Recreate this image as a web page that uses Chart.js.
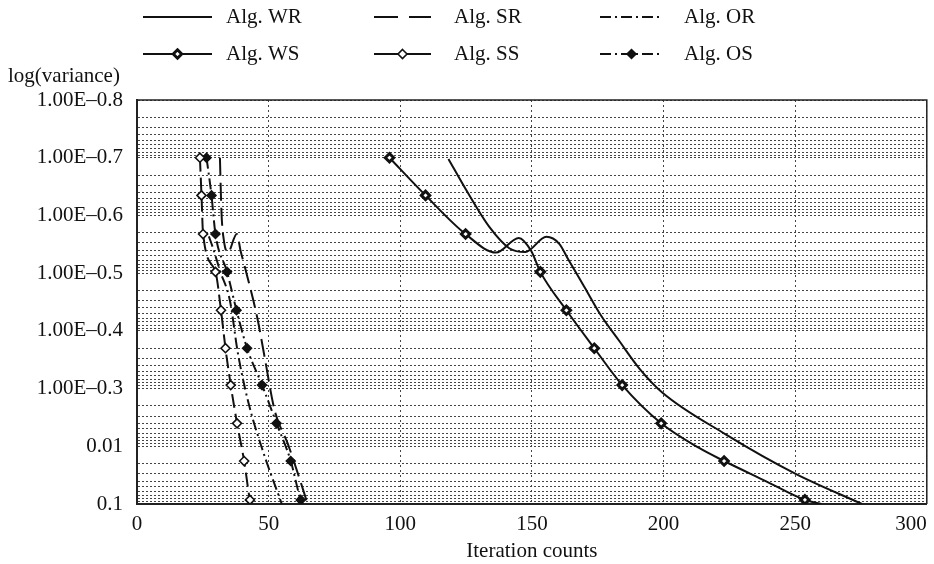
<!DOCTYPE html>
<html><head><meta charset="utf-8">
<script src="https://cdn.jsdelivr.net/npm/chart.js@4/dist/chart.umd.min.js"></script>
<style>html,body{margin:0;padding:0;background:#fff}#wrap{width:934px;height:564px}</style>
</head><body><div id="wrap"><canvas id="c" width="934" height="564"></canvas></div>
<script>
// ---- data ----
const xTickValues = [0, 50, 100, 150, 200, 250, 300];
const xTickLabels = ['0', '50', '100', '150', '200', '250', '300'];
const yTickValues = [1e-8, 1e-7, 1e-6, 1e-5, 1e-4, 1e-3, 1e-2, 1e-1];
const yTickLabels = ['1.00E–0.8', '1.00E–0.7', '1.00E–0.6', '1.00E–0.5', '1.00E–0.4', '1.00E–0.3', '0.01', '0.1'];
const seriesNames = ['Alg. WR', 'Alg. SR', 'Alg. OR', 'Alg. WS', 'Alg. SS', 'Alg. OS'];

const wrX = [118.3, 125.0, 133.9, 141.4, 147.5, 155.5, 160.4, 164.0, 170.0, 176.0, 183.2, 191.0, 199.5, 223.6, 250.2, 275.4];
const wrY = [1.05e-7, 3.6e-7, 1.6e-6, 3.7e-6, 4.3e-6, 2.35e-6, 3.1e-6, 6.0e-6, 1.75e-5, 5.2e-5, 1.5e-4, 4.6e-4, 1.17e-3, 6.2e-3, 3.0e-2, 1.0e-1];

const srX = [31.5, 32.1, 33.0, 34.5, 37.9, 39.4, 41.0, 45.9, 48.5, 52.3, 57.3, 61.8, 64.8];
const srY = [1.0e-7, 9.1e-7, 2.7e-6, 4.4e-6, 2.1e-6, 4.2e-6, 7.9e-6, 6.6e-5, 2.9e-4, 2.4e-3, 9.1e-3, 3.7e-2, 1.0e-1];

const orX = [27.3, 28.8, 31.5, 35.3, 38.3, 42.1, 47.8, 55.0];
const orY = [2.3e-6, 3.6e-6, 9.0e-6, 3.0e-5, 2.4e-4, 1.6e-3, 1.2e-2, 1.0e-1];

const wsX = [95.9, 109.6, 124.8, 136.4, 145.0, 149.7, 153.2, 163.1, 173.7, 184.3, 199.1, 213.5, 223.0, 238.8, 253.7, 260.0];
const wsY = [1.0e-7, 4.5e-7, 2.1e-6, 4.4e-6, 2.45e-6, 4.1e-6, 9.5e-6, 4.4e-5, 2.0e-4, 8.7e-4, 4.0e-3, 1.07e-2, 1.8e-2, 4.0e-2, 8.5e-2, 1.0e-1];
const wsMark = [1, 1, 1, 0, 0, 0, 1, 1, 1, 1, 1, 0, 1, 0, 1, 0];

const ssX = [23.9, 24.5, 25.1, 29.8, 31.9, 33.6, 35.6, 38.0, 40.7, 42.9, 43.4];
const ssY = [1.0e-7, 4.5e-7, 2.1e-6, 9.5e-6, 4.4e-5, 2.0e-4, 8.7e-4, 4.0e-3, 1.8e-2, 8.5e-2, 1.0e-1];
const ssMark = [1, 1, 1, 1, 1, 1, 1, 1, 1, 1, 0];

const osX = [26.4, 28.3, 29.8, 34.2, 37.8, 41.8, 47.5, 53.0, 58.4, 62.2, 63.0];
const osY = [1.0e-7, 4.5e-7, 2.1e-6, 9.5e-6, 4.4e-5, 2.0e-4, 8.7e-4, 4.0e-3, 1.8e-2, 8.5e-2, 1.0e-1];
const osMark = [1, 1, 1, 1, 1, 1, 1, 1, 1, 1, 0];

// ---- styling ----
const FONT = '"Liberation Serif", "Times New Roman", serif';
const INK = '#111';

function pts(xs, ys) { return xs.map((x, i) => ({x: x, y: ys[i]})); }
function ds(label, xs, ys, extra) {
  return Object.assign({
    label: label, data: pts(xs, ys), borderColor: INK, backgroundColor: INK,
    borderWidth: 2, pointRadius: 0, pointHoverRadius: 0, fill: false,
    cubicInterpolationMode: 'monotone', borderDash: []
  }, extra || {});
}
function markR(mask, r) { return c => (mask[c.dataIndex] ? r : 0); }

const datasets = [
  ds(seriesNames[0], wrX, wrY, {}),
  ds(seriesNames[1], srX, srY, {borderDash: [18, 7], _legendDash: [24, 11]}),
  ds(seriesNames[2], orX, orY, {borderDash: [11, 4, 2, 4]}),
  ds(seriesNames[3], wsX, wsY, {pointStyle: 'rectRot', pointRadius: markR(wsMark, 4.2), pointBorderWidth: 3, pointBackgroundColor: '#fff', pointBorderColor: INK, _mk: 'ws'}),
  ds(seriesNames[4], ssX, ssY, {borderDash: [14, 6], _legendDash: [24, 9], pointStyle: 'rectRot', pointRadius: markR(ssMark, 4.5), pointBorderWidth: 1.6, pointBackgroundColor: '#fff', pointBorderColor: INK, _mk: 'ss'}),
  ds(seriesNames[5], osX, osY, {borderDash: [11, 4, 2, 4], pointStyle: 'rectRot', pointRadius: markR(osMark, 4.5), pointBorderWidth: 1.5, pointBackgroundColor: INK, pointBorderColor: INK, _mk: 'os'})
];

const legendCols = [{x0: 143, x1: 212, tx: 226}, {x0: 374, x1: 431, tx: 454}, {x0: 600, x1: 663, tx: 684}];
const legendRows = [17, 54];

function diamond(ctx, x, y, r, fill, lw) {
  ctx.save();
  ctx.setLineDash([]);
  ctx.beginPath();
  ctx.moveTo(x, y - r); ctx.lineTo(x + r, y); ctx.lineTo(x, y + r); ctx.lineTo(x - r, y); ctx.closePath();
  ctx.fillStyle = fill; ctx.fill();
  ctx.lineWidth = lw; ctx.strokeStyle = INK; ctx.stroke();
  ctx.restore();
}

const decorPlugin = {
  id: 'decor',
  afterDraw(chart) {
    const ctx = chart.ctx, ca = chart.chartArea;
    ctx.save();
    ctx.setLineDash([]);
    ctx.strokeStyle = '#222'; ctx.lineWidth = 1.5;
    ctx.beginPath(); ctx.moveTo(ca.left, ca.top); ctx.lineTo(ca.right, ca.top); ctx.lineTo(ca.right, ca.bottom); ctx.stroke();
    ctx.font = '21px ' + FONT; ctx.fillStyle = INK; ctx.textBaseline = 'middle'; ctx.textAlign = 'left';
    ctx.fillText('log(variance)', 8, 76);
    chart.data.datasets.forEach((d, i) => {
      const c = legendCols[i % 3], y = legendRows[Math.floor(i / 3)];
      ctx.save();
      ctx.strokeStyle = INK; ctx.lineWidth = 2; ctx.setLineDash(d._legendDash || d.borderDash || []);
      ctx.beginPath(); ctx.moveTo(c.x0, y); ctx.lineTo(c.x1, y); ctx.stroke();
      ctx.restore();
      if (d._mk) {
        const mx = (c.x0 + c.x1) / 2;
        if (d._mk === 'ws') diamond(ctx, mx, y, 4.2, '#fff', 3);
        if (d._mk === 'ss') diamond(ctx, mx, y, 4.5, '#fff', 1.6);
        if (d._mk === 'os') diamond(ctx, mx, y, 4.5, INK, 1.5);
      }
      ctx.fillStyle = INK; ctx.font = '21px ' + FONT; ctx.textBaseline = 'middle'; ctx.textAlign = 'left';
      ctx.fillText(d.label, c.tx, y);
    });
    ctx.restore();
  }
};

new Chart(document.getElementById('c'), {
  type: 'line',
  data: {datasets: datasets},
  options: {
    responsive: false, animation: false, devicePixelRatio: 1,
    layout: {padding: {top: 100, left: 0, right: 4, bottom: 0}},
    plugins: {legend: {display: false}, tooltip: {enabled: false}, title: {display: false}},
    elements: {line: {tension: 0.4}},
    scales: {
      x: {
        type: 'linear', min: 0, max: 300,
        afterBuildTicks: s => { s.ticks = xTickValues.map(v => ({value: v})); },
        afterFit: s => { s.height = 60; s.paddingRight = 0; s.paddingLeft = 0; },
        ticks: {
          font: {family: FONT, size: 21}, color: INK, padding: 8, maxRotation: 0,
          callback: (v, i, arr) => {
            const k = xTickValues.indexOf(v);
            const lab = k >= 0 ? xTickLabels[k] : '';
            return k === xTickValues.length - 1 ? lab + '\u2002\u2002\u2002' : lab;
          }
        },
        grid: {color: '#444', lineWidth: 1, drawTicks: false},
        border: {display: true, color: '#222', width: 2, dash: [2, 3]},
        title: {display: true, text: 'Iteration counts', font: {family: FONT, size: 21}, color: INK, padding: {top: 0, bottom: 0}}
      },
      y: {
        type: 'logarithmic', reverse: true, min: 1e-8, max: 1e-1,
        afterBuildTicks: s => {
          const t = [];
          for (let e = -8; e <= -2; e++) for (let m = 1; m <= 9; m++) t.push({value: Number((m * Math.pow(10, e)).toPrecision(6))});
          t.push({value: 1e-1});
          s.ticks = t;
        },
        afterFit: s => { s.width = 137; },
        ticks: {
          autoSkip: false, font: {family: FONT, size: 21}, color: INK, padding: 14,
          callback: v => {
            const k = yTickValues.findIndex(t => Math.abs(Math.log10(t) - Math.log10(v)) < 1e-6);
            return k >= 0 ? yTickLabels[k] : '';
          }
        },
        grid: {color: '#444', lineWidth: 1, drawTicks: false},
        border: {display: true, color: '#222', width: 2, dash: [2, 2]}
      }
    }
  },
  plugins: [decorPlugin]
});
</script></body></html>
